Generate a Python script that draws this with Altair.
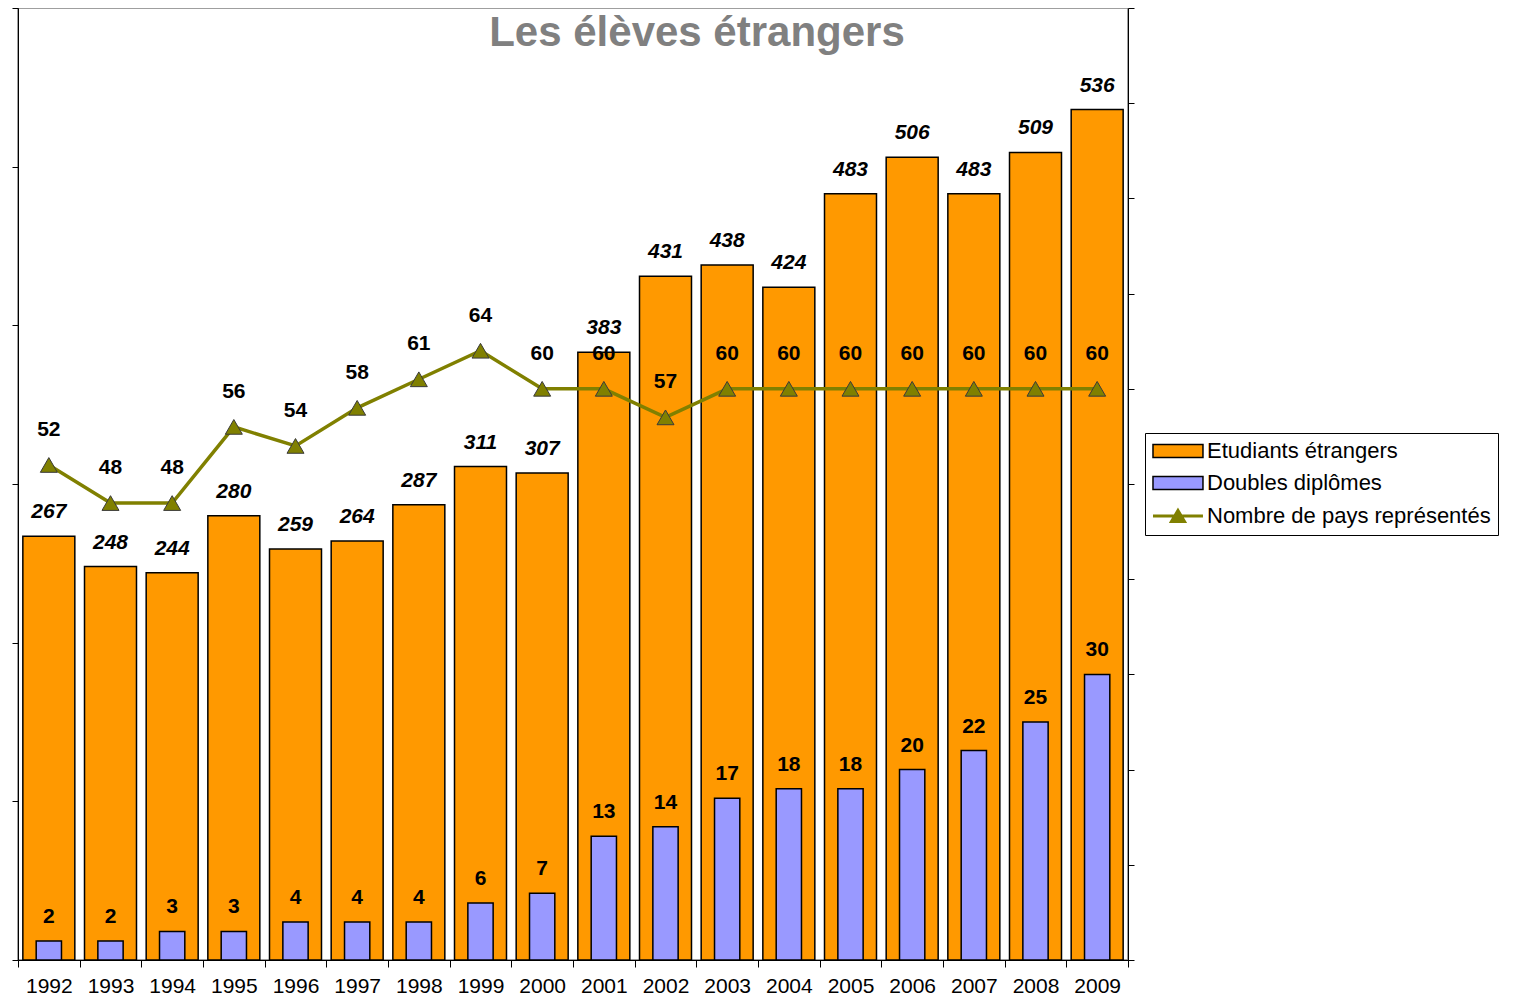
import altair as alt
import pandas as pd

years = [str(y) for y in range(1992, 2010)]
etudiants = [267, 248, 244, 280, 259, 264, 287, 311, 307, 383, 431, 438, 424, 483, 506, 483, 509, 536]
doubles = [2, 2, 3, 3, 4, 4, 4, 6, 7, 13, 14, 17, 18, 18, 20, 22, 25, 30]
pays = [52, 48, 48, 56, 54, 58, 61, 64, 60, 60, 57, 60, 60, 60, 60, 60, 60, 60]

S1 = "Etudiants étrangers"
S2 = "Doubles diplômes"
S3 = "Nombre de pays représentés"

ORANGE = "#FF9900"
BLUE = "#9999FF"
OLIVE = "#808000"
FONT = "Liberation Sans"

df = pd.DataFrame({"annee": years, "etudiants": etudiants, "doubles": doubles,
                   "pays": pays, "s1": S1})

W, H = 1110, 952

x = alt.X("annee:N", sort=years,
          scale=alt.Scale(paddingInner=0, paddingOuter=0),
          axis=alt.Axis(title=None, labelAngle=0, labelFontSize=21, labelFont=FONT,
                        labelColor="black", tickBand="extent", tickSize=7,
                        tickColor="black", domainColor="black", labelPadding=8,
                        grid=False))

left_scale = alt.Scale(domain=[0, 600], nice=False, zero=True)
right_scale = alt.Scale(domain=[0, 100], nice=False, zero=True)

left_axis = alt.Axis(orient="left", title=None, labels=False, grid=False,
                     values=list(range(0, 601, 100)), tickSize=6,
                     tickColor="black", domainColor="black")
right_axis = alt.Axis(orient="right", title=None, labels=False, grid=False,
                      values=list(range(0, 101, 10)), tickSize=6,
                      tickColor="black", domainColor="black")

RECT = "M-1.43,-0.93L5.71,-0.93L5.71,0.93L-1.43,0.93Z"
LINE = "M-1.43,0L5.71,0M2.14,-0.79L3.07,0.79L1.21,0.79Z"

legend = alt.Legend(
    title=None, orient="none", legendX=1127, legendY=425,
    symbolSize=196, labelFontSize=22, labelFont=FONT, labelColor="black",
    labelOffset=33, labelLimit=500, padding=7, rowPadding=10,
    strokeColor="black", fillColor="white", symbolOpacity=1,
    symbolType=alt.ExprRef(expr=f"datum.value === '{S3}' ? '{LINE}' : '{RECT}'"),
    symbolStrokeColor=alt.ExprRef(expr=f"datum.value === '{S3}' ? '{OLIVE}' : 'black'"),
    symbolStrokeWidth=alt.ExprRef(expr=f"datum.value === '{S3}' ? 3 : 1.5"),
)

base = alt.Chart(df)

orange = base.mark_bar(width=alt.RelativeBandSize(0.843), stroke="black",
                       strokeWidth=1.5, opacity=1).encode(
    x=x,
    y=alt.Y("etudiants:Q", scale=left_scale, axis=left_axis),
    color=alt.Color("s1:N", scale=alt.Scale(domain=[S1, S2, S3],
                                            range=[ORANGE, BLUE, OLIVE]),
                    legend=legend),
)
orange_text = base.mark_text(dy=-24, fontSize=21, fontWeight="bold",
                             fontStyle="italic", font=FONT, color="black",
                             baseline="middle").encode(
    x=x,
    y=alt.Y("etudiants:Q", scale=left_scale, axis=None),
    text="etudiants:Q",
)

blue = base.mark_bar(width=alt.RelativeBandSize(0.41), fill=BLUE, stroke="black",
                     strokeWidth=1.5, opacity=1).encode(
    x=x,
    y=alt.Y("doubles:Q", scale=right_scale, axis=right_axis),
)
blue_text = base.mark_text(dy=-24, fontSize=21, fontWeight="bold", font=FONT,
                           color="black", baseline="middle").encode(
    x=x,
    y=alt.Y("doubles:Q", scale=right_scale, axis=None),
    text="doubles:Q",
)

line = base.mark_line(color=OLIVE, strokeWidth=3.5).encode(
    x=x,
    y=alt.Y("pays:Q", scale=right_scale, axis=None),
)
points = base.mark_point(shape="triangle-up", size=289, filled=True, fill=OLIVE,
                         stroke="#3a3a3a", strokeWidth=1, opacity=1).encode(
    x=x,
    y=alt.Y("pays:Q", scale=right_scale, axis=None),
)
pays_text = base.mark_text(dy=-35, fontSize=21, fontWeight="bold", font=FONT,
                           color="black", baseline="middle").encode(
    x=x,
    y=alt.Y("pays:Q", scale=right_scale, axis=None),
    text="pays:Q",
)

chart = alt.layer(orange, orange_text, blue, blue_text, line, points, pays_text).resolve_scale(
    y="independent"
).properties(
    width=W, height=H,
    autosize=alt.AutoSizeParams(type="none"),
    padding={"left": 10, "top": 0, "right": 380, "bottom": 38},
    title=alt.TitleParams("Les élèves étrangers", font=FONT, fontSize=42,
                          fontWeight="bold", color="#808080", anchor="middle",
                          frame="group", dx=124, offset=-80, baseline="alphabetic"),
).configure_view(stroke="#808080", strokeWidth=1.5)

chart.save("out.html", embed_options={"renderer": "svg", "actions": False})
